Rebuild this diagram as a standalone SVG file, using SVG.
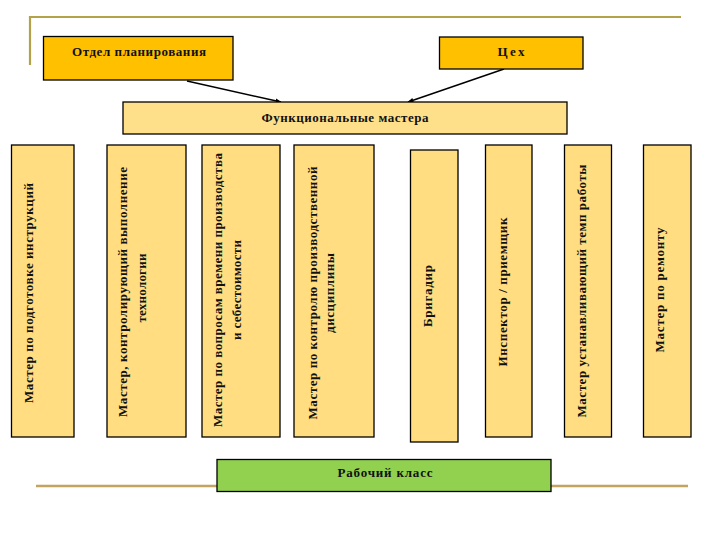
<svg xmlns="http://www.w3.org/2000/svg" width="720" height="540" viewBox="0 0 720 540">
<style>
.t{font-family:"Liberation Serif","Times New Roman",serif;font-weight:bold;font-size:13px;fill:#111;text-anchor:middle}
.dark{fill:#FFC000;stroke:#000;stroke-width:1.3}
.light{fill:#FFE08A;stroke:#000;stroke-width:1.3}
.col{fill:#FFDD80;stroke:#000;stroke-width:1.3}
.green{fill:#92D050;stroke:#000;stroke-width:1.3}
.conn{stroke:#000;stroke-width:1.5;fill:none;marker-end:url(#ah)}
</style>
<defs>
<marker id="ah" viewBox="0 0 10 10" refX="9" refY="5" markerWidth="6" markerHeight="6" orient="auto" markerUnits="userSpaceOnUse">
<path d="M0,1 L10,5 L0,9 Z" fill="#000"/>
</marker>
</defs>
<rect width="720" height="540" fill="#fff"/>
<g id="decor" stroke="#B4A24A" stroke-width="2.2" fill="none">
<polyline points="30,65 30,17 681,17"/>
<line x1="36" y1="486" x2="688" y2="486" stroke="#C0A460" stroke-width="2.4"/>
</g>
<g id="connectors">
<line class="conn" x1="187" y1="81" x2="281" y2="102"/>
<line class="conn" x1="504" y1="69" x2="408" y2="102"/>
</g>
<g id="otdel"><rect class="dark" x="43.5" y="36.5" width="189.5" height="43.5"/><text class="t" x="139" y="56" textLength="134">Отдел планирования</text></g>
<g id="tseh"><rect class="dark" x="439.5" y="37" width="143.5" height="32"/><text class="t" x="511" y="56" textLength="27">Цех</text></g>
<g id="funk"><rect class="light" x="123" y="102" width="444" height="32"/><text class="t" x="345" y="121.5" textLength="167">Функциональные мастера</text></g>
<g id="m1"><rect class="col" x="11.5" y="145" width="62.5" height="292"/><text class="t" transform="translate(33,293) rotate(-90)" textLength="220">Мастер по подготовке инструкций</text></g>
<g id="m2"><rect class="col" x="107" y="145" width="79" height="292"/><text class="t" transform="translate(127,292) rotate(-90)" textLength="250">Мастер, контролирующий выполнение</text><text class="t" transform="translate(146,288) rotate(-90)" textLength="69">технологии</text></g>
<g id="m3"><rect class="col" x="202" y="145" width="78" height="292"/><text class="t" transform="translate(222,290) rotate(-90)" textLength="274">Мастер по вопросам времени производства</text><text class="t" transform="translate(241,290) rotate(-90)" textLength="100">и себестоимости</text></g>
<g id="m4"><rect class="col" x="294" y="145" width="80" height="292"/><text class="t" transform="translate(317,293) rotate(-90)" textLength="253">Мастер по контролю производственной</text><text class="t" transform="translate(334,293) rotate(-90)" textLength="80">дисциплины</text></g>
<g id="m5"><rect class="col" x="410.5" y="150" width="47.5" height="292"/><text class="t" transform="translate(432,296) rotate(-90)" textLength="62">Бригадир</text></g>
<g id="m6"><rect class="col" x="485.5" y="145" width="46.5" height="292"/><text class="t" transform="translate(507,292) rotate(-90)" textLength="149">Инспектор / приемщик</text></g>
<g id="m7"><rect class="col" x="564.5" y="145" width="47" height="292"/><text class="t" transform="translate(586,291) rotate(-90)" textLength="253">Мастер устанавливающий темп работы</text></g>
<g id="m8"><rect class="col" x="643.5" y="145" width="47.5" height="292"/><text class="t" transform="translate(664,290) rotate(-90)" textLength="125">Мастер по ремонту</text></g>
<g id="rabochiy"><rect class="green" x="217" y="459.5" width="334" height="32"/><text class="t" x="385" y="476.5" textLength="95">Рабочий класс</text></g>
</svg>
